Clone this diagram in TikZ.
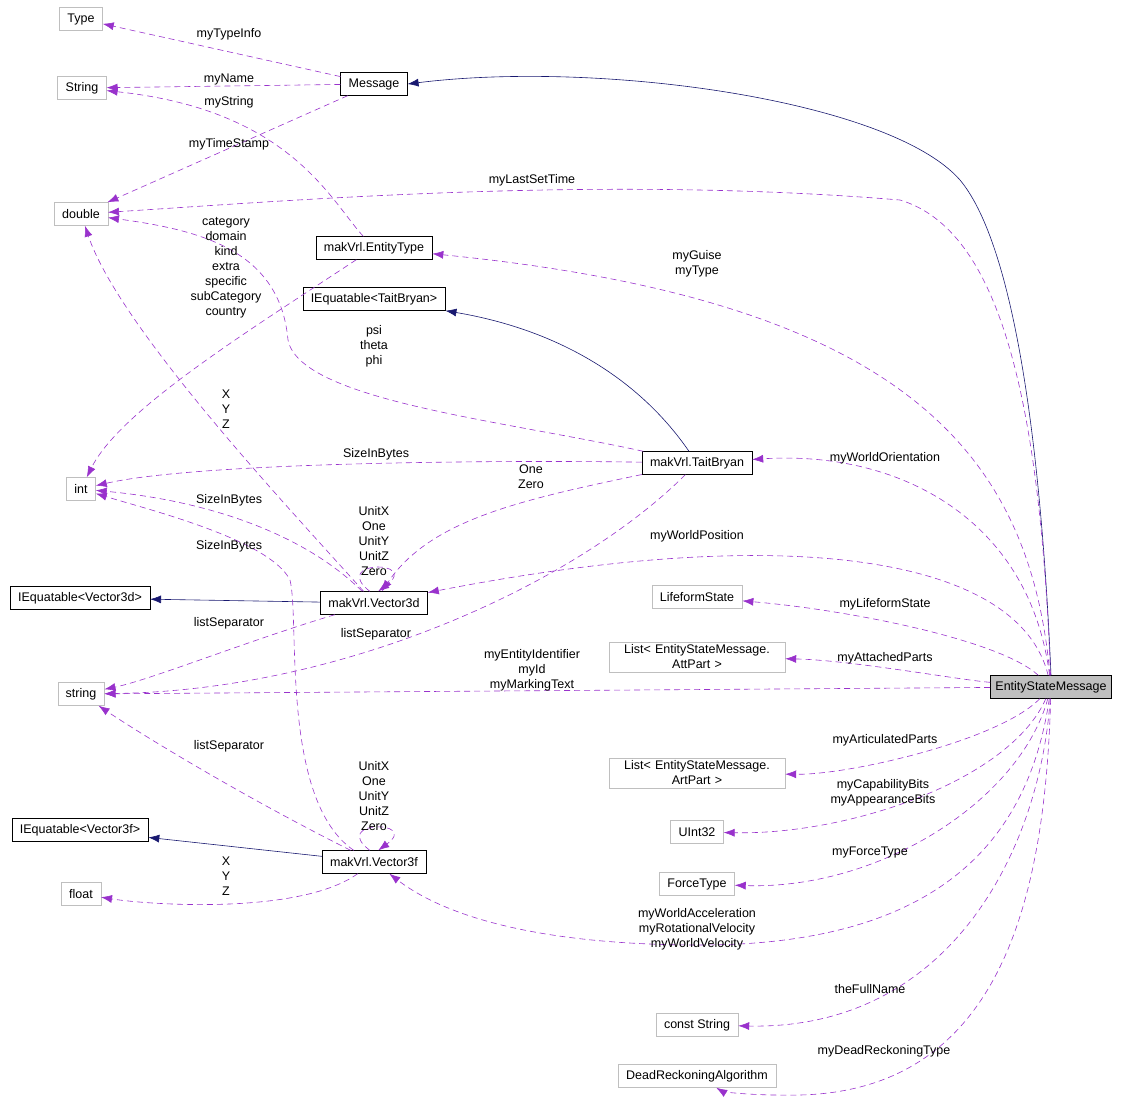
\documentclass[tikz,border=0pt]{standalone}
\usepackage{fontspec}
\setmainfont{Liberation Sans}
\usetikzlibrary{arrows.meta}
\definecolor{navyline}{RGB}{25,25,112}
\definecolor{usecol}{RGB}{153,50,204}
\definecolor{graybox}{RGB}{191,191,191}
\begin{document}
\begin{tikzpicture}[
	x=1pt, y=-1pt,
	font=\fontsize{12.5}{15}\selectfont,
	nodes = {
		align = center
	},
	cls/.style={
		rectangle,
		draw=black,
		fill=white,
		inner xsep=8pt,
		inner ysep=3pt,
		minimum height=23pt
	},
	ext/.style={
		cls,
		draw=graybox
	},
	inh/.style={
		navyline,
		semithick,
		-{Latex[length=11pt,width=8pt]}
	},
	use/.style={
		usecol,
		semithick,
		dash pattern=on 6pt off 4pt,
		-{Latex[length=11pt,width=8pt]}
	},
	lbl/.style={
		inner sep=0pt
	}
]
	\useasboundingbox (0,0) rectangle (1128,1104);

	\node[ext] (type) at (81,19) {Type};
	\node[ext] (str_up) at (82,88) {String};
	\node[ext] (double) at (81,214) {double};
	\node[ext] (int) at (81,489) {int};
	\node[ext] (string) at (81,694) {string};
	\node[ext] (float) at (81,894) {float};

	\node[cls] (message) at (374,84) {Message};
	\node[cls] (entitytype) at (374,248) {makVrl.EntityType};
	\node[cls] (eq_tait) at (374,299) {IEquatable<TaitBryan>};
	\node[cls] (taitbryan) at (697,463) {makVrl.TaitBryan};
	\node[cls] (vector3d) at (374,603) {makVrl.Vector3d};
	\node[cls] (eq_v3d) at (80,598) {IEquatable<Vector3d>};
	\node[cls] (eq_v3f) at (80,830) {IEquatable<Vector3f>};
	\node[cls] (vector3f) at (374,862) {makVrl.Vector3f};

	\node[ext] (lifeform) at (697,597) {LifeformState};
	\node[ext, text width=160pt] (attpart) at (697,657) {List< EntityStateMessage.\\AttPart >};
	\node[ext, text width=160pt] (artpart) at (697,773) {List< EntityStateMessage.\\ArtPart >};
	\node[ext] (uint32) at (697,832) {UInt32};
	\node[ext] (forcetype) at (697,884) {ForceType};
	\node[ext] (conststr) at (697,1025) {const String};
	\node[ext] (deadreck) at (697,1076) {DeadReckoningAlgorithm};

	\node[cls, fill=graybox, inner xsep=5pt] (esm) at (1051,687) {EntityStateMessage};

	% inheritance
	\draw[inh] (esm.north) .. controls (1040,420) and (1010,240) .. (960,180)
		.. controls (890,100) and (600,60) .. (message.east);
	\draw[inh] (taitbryan) .. controls (640,380) and (560,330) .. (eq_tait.south east);
	\draw[inh] (vector3d) -- (eq_v3d);
	\draw[inh] (vector3f) -- (eq_v3f);

	% usage
	\draw[use] (message) -- (type);
	\draw[use] (message) -- (str_up);
	\draw[use] (message) -- (double);
	\draw[use] (entitytype) .. controls (330,200) and (290,110) .. (str_up);
	\draw[use] (entitytype) .. controls (250,330) and (120,410) .. (int);
	\draw[use] (taitbryan) .. controls (500,420) and (300,400) .. (288,340)
		.. controls (280,250) and (200,230) .. (double);
	\draw[use] (taitbryan) .. controls (500,460) and (200,462) .. (int);
	\draw[use] (taitbryan) .. controls (520,500) and (430,520) .. (vector3d);
	\draw[use] (taitbryan) .. controls (580,580) and (350,690) .. (string);
	\draw[use] (vector3d) .. controls (300,520) and (120,330) .. (double);
	\draw[use] (vector3d) .. controls (300,530) and (200,500) .. (int);
	\draw[use] (vector3d.110) .. controls (330,560) and (420,560) .. (vector3d.70);
	\draw[use] (vector3d) .. controls (250,640) and (150,680) .. (string);
	\draw[use] (vector3f.150) .. controls (280,800) and (300,620) .. (290,580)
		.. controls (270,540) and (150,510) .. (int);
	\draw[use] (vector3f) .. controls (250,800) and (150,740) .. (string);
	\draw[use] (vector3f.110) .. controls (330,820) and (420,820) .. (vector3f.70);
	\draw[use] (vector3f) .. controls (300,915) and (150,905) .. (float);

	\draw[use] (esm) .. controls (1040,400) and (1000,230) .. (900,200)
		.. controls (600,175) and (300,200) .. (double);
	\draw[use] (esm) .. controls (1030,450) and (900,300) .. (entitytype);
	\draw[use] (esm) .. controls (1030,520) and (900,450) .. (taitbryan);
	\draw[use] (esm) .. controls (1020,560) and (800,520) .. (vector3d);
	\draw[use] (esm) .. controls (1000,640) and (850,610) .. (lifeform);
	\draw[use] (esm) .. controls (960,680) and (850,660) .. (attpart);
	\draw[use] (esm) -- (string);
	\draw[use] (esm) .. controls (1000,740) and (850,775) .. (artpart);
	\draw[use] (esm) .. controls (1010,780) and (850,835) .. (uint32);
	\draw[use] (esm) .. controls (1020,800) and (880,890) .. (forcetype);
	\draw[use] (esm) .. controls (1030,830) and (950,945) .. (700,945)
		.. controls (550,945) and (450,920) .. (vector3f);
	\draw[use] (esm) .. controls (1040,850) and (950,1030) .. (conststr);
	\draw[use] (esm) .. controls (1045,900) and (1000,1090) .. (800,1095)
		.. controls (740,1096) and (720,1090) .. (deadreck);

	% labels
	\node[lbl] (l_typeinfo) at (229,34) {myTypeInfo};
	\node[lbl] (l_name) at (229,79) {myName};
	\node[lbl] (l_string) at (229,102) {myString};
	\node[lbl] (l_timestamp) at (229,144) {myTimeStamp};
	\node[lbl] (l_lastset) at (532,180) {myLastSetTime};
	\node[lbl] (l_etype) at (226,268) {category\\domain\\kind\\extra\\specific\\subCategory\\country};
	\node[lbl] (l_guise) at (697,264) {myGuise\\myType};
	\node[lbl] (l_angles) at (374,346) {psi\\theta\\phi};
	\node[lbl] (l_xyz_d) at (226,409) {X\\Y\\Z};
	\node[lbl] (l_size_tb) at (376,454) {SizeInBytes};
	\node[lbl] (l_orient) at (885,458) {myWorldOrientation};
	\node[lbl] (l_onezero) at (531,477) {One\\Zero};
	\node[lbl] (l_size_d) at (229,500) {SizeInBytes};
	\node[lbl] (l_unit_d) at (374,541) {UnitX\\One\\UnitY\\UnitZ\\Zero};
	\node[lbl] (l_pos) at (697,536) {myWorldPosition};
	\node[lbl] (l_size_f) at (229,546) {SizeInBytes};
	\node[lbl] (l_lifeform) at (885,604) {myLifeformState};
	\node[lbl] (l_sep_d) at (229,623) {listSeparator};
	\node[lbl] (l_sep_tb) at (376,634) {listSeparator};
	\node[lbl] (l_attached) at (885,658) {myAttachedParts};
	\node[lbl] (l_ident) at (532,670) {myEntityIdentifier\\myId\\myMarkingText};
	\node[lbl] (l_articulated) at (885,740) {myArticulatedParts};
	\node[lbl] (l_sep_f) at (229,746) {listSeparator};
	\node[lbl] (l_unit_f) at (374,796) {UnitX\\One\\UnitY\\UnitZ\\Zero};
	\node[lbl] (l_bits) at (883,793) {myCapabilityBits\\myAppearanceBits};
	\node[lbl] (l_force) at (870,852) {myForceType};
	\node[lbl] (l_xyz_f) at (226,876) {X\\Y\\Z};
	\node[lbl] (l_accel) at (697,929) {myWorldAcceleration\\myRotationalVelocity\\myWorldVelocity};
	\node[lbl] (l_fullname) at (870,989) {theFullName};
	\node[lbl] (l_deadreck) at (884,1051) {myDeadReckoningType};
\end{tikzpicture}
\end{document}
